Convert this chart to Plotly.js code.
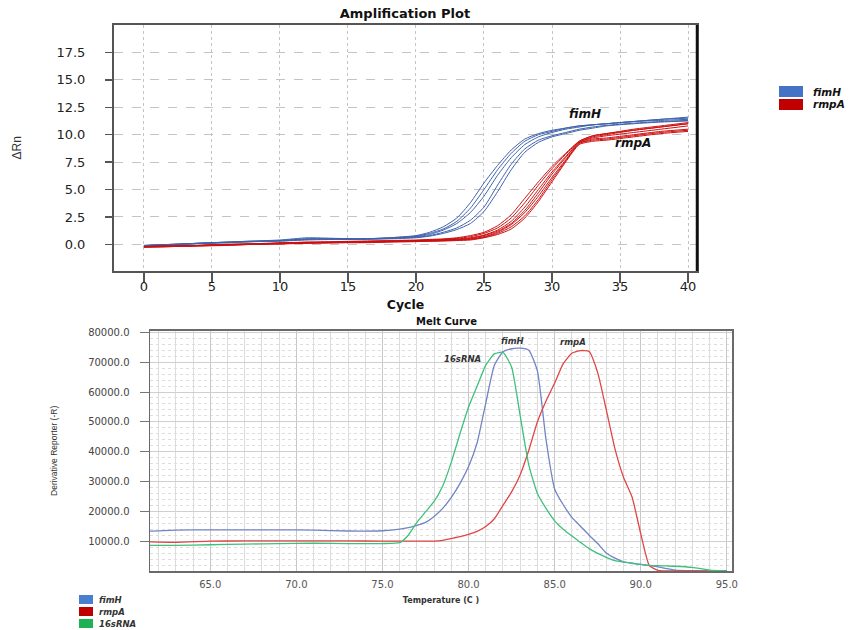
<!DOCTYPE html>
<html>
<head>
<meta charset="utf-8">
<script src="https://cdn.plot.ly/plotly-3.0.1.min.js"></script>
<style>html,body{margin:0;padding:0;background:#fff;}</style>
</head>
<body>
<div id="chart" style="width:862px;height:630px;"></div>
<script>
// ---------- Amplification plot data (ΔRn vs cycle) ----------
const cycles = [0,2,4,6,8,10,12,14,16,18,20,21,22,23,24,25,26,27,28,29,30,31,32,33,34,36,38,40];

const fimH_1 = [-0.10,0.00,0.10,0.20,0.30,0.35,0.50,0.50,0.50,0.60,0.80,1.10,1.60,2.40,3.80,5.60,7.20,8.60,9.60,10.10,10.40,10.60,10.80,10.90,11.00,11.20,11.40,11.50];
const fimH_2 = [-0.10,0.00,0.10,0.20,0.30,0.40,0.60,0.55,0.50,0.60,0.75,1.00,1.40,2.10,3.30,5.00,6.80,8.30,9.40,10.00,10.30,10.60,10.80,10.90,11.00,11.20,11.40,11.60];
const fimH_3 = [-0.15,-0.05,0.10,0.20,0.25,0.35,0.50,0.50,0.50,0.55,0.70,0.90,1.30,1.90,2.90,4.40,6.30,7.90,9.10,9.80,10.20,10.50,10.70,10.90,11.00,11.20,11.30,11.40];
const fimH_4 = [-0.10,0.00,0.10,0.15,0.25,0.30,0.45,0.50,0.50,0.55,0.65,0.80,1.10,1.50,2.20,3.40,5.40,7.30,8.70,9.50,9.90,10.20,10.50,10.70,10.85,11.05,11.20,11.30];
const fimH_5 = [-0.15,-0.05,0.05,0.15,0.25,0.30,0.40,0.45,0.45,0.50,0.60,0.75,1.00,1.35,1.90,3.00,4.80,6.80,8.40,9.30,9.80,10.10,10.40,10.60,10.80,11.00,11.15,11.25];

const rmpA_1 = [-0.20,-0.15,-0.10,0.00,0.05,0.15,0.20,0.25,0.30,0.35,0.40,0.45,0.50,0.60,0.80,1.10,1.70,2.70,4.20,5.70,7.10,8.30,9.40,9.90,10.10,10.40,10.70,11.00];
const rmpA_2 = [-0.20,-0.15,-0.10,0.00,0.05,0.10,0.20,0.20,0.25,0.30,0.35,0.40,0.45,0.55,0.70,1.00,1.50,2.40,3.80,5.40,6.90,8.20,9.40,9.90,10.10,10.50,10.80,11.10];
const rmpA_3 = [-0.25,-0.20,-0.10,-0.05,0.05,0.10,0.15,0.20,0.25,0.30,0.35,0.40,0.45,0.50,0.60,0.85,1.30,2.10,3.40,5.00,6.60,8.00,9.30,9.80,10.00,10.40,10.70,11.00];
const rmpA_4 = [-0.20,-0.15,-0.10,-0.05,0.00,0.10,0.15,0.20,0.20,0.25,0.30,0.35,0.40,0.45,0.55,0.80,1.20,1.90,3.10,4.70,6.40,7.90,9.30,9.70,9.90,10.20,10.50,10.80];
const rmpA_5 = [-0.25,-0.20,-0.15,-0.05,0.00,0.05,0.15,0.15,0.20,0.25,0.30,0.30,0.35,0.40,0.50,0.70,1.10,1.80,2.90,4.40,6.10,7.70,9.20,9.60,9.70,10.00,10.30,10.50];
const rmpA_6 = [-0.20,-0.15,-0.10,-0.05,0.00,0.05,0.10,0.15,0.20,0.25,0.30,0.30,0.35,0.40,0.45,0.65,1.00,1.60,2.60,4.10,5.90,7.60,9.20,9.50,9.60,9.90,10.20,10.40];
const rmpA_7 = [-0.25,-0.20,-0.15,-0.10,0.00,0.05,0.10,0.15,0.15,0.20,0.25,0.30,0.30,0.35,0.40,0.60,0.90,1.40,2.40,3.90,5.70,7.50,9.10,9.40,9.50,9.80,10.10,10.30];

const ampXTicks = [0,5,10,15,20,25,30,35,40];
const ampYTicks = [0,2.5,5,7.5,10,12.5,15,17.5];

// ---------- Melt curve data (derivative reporter vs temperature) ----------
const meltTemp = [61,63,65,67,69,71,73,75,76,76.5,77,77.5,78,78.5,79,79.5,80,80.5,81,81.5,82,82.5,83,83.5,84,84.5,85,85.5,86,86.5,87,87.5,88,88.5,89,89.5,90,90.5,91,91.5,92,93,94,95];
const meltFimH = [13200,13700,13800,13800,13800,13700,13400,13500,14000,14500,15300,16300,18300,21000,24700,29300,35000,43000,56300,69000,73500,74500,74700,74000,67000,44000,27500,22200,18000,15000,12000,9200,6000,4300,3100,2600,2200,1800,1400,800,300,100,50,0];
const melt16s  = [8600,8600,8800,9000,9200,9300,9200,9200,9500,12000,16300,19800,23300,28500,36500,46000,55000,62000,69000,72800,73300,68400,52000,35500,26000,21000,16800,14000,11700,9600,7500,5900,4600,3500,3000,2600,2200,1900,1800,1700,1600,1200,300,0];
const meltRmpA = [9800,9600,10000,10100,10100,10100,10100,10000,10000,10000,10000,10000,10000,10300,10900,11500,12300,13300,14900,17500,22000,26500,32300,40500,50000,57000,63000,69500,73000,73900,73600,66500,54000,41000,31400,24700,12500,1800,200,0,0,0,0,0];

const meltXTicks = [65,70,75,80,85,90,95];
const meltYTicks = [10000,20000,30000,40000,50000,60000,70000,80000];

// ---------- styles ----------
const W = 862, H = 630;
const px = x => x / W;
const py = y => 1 - y / H;
const BLUE_AMP = '#3f62aa', RED_AMP = '#cc1010';
const BLUE_M = '#7284c4', RED_M = '#e04646', GREEN_M = '#3fc07c';

const traces = [];
[fimH_1,fimH_2,fimH_3,fimH_4,fimH_5].forEach(v => traces.push({
  x: cycles, y: v, xaxis:'x', yaxis:'y', type:'scatter', mode:'lines',
  line:{color:BLUE_AMP, width:1.0, shape:'spline', smoothing:0.6}, name:'fimH', hoverinfo:'skip'
}));
[rmpA_1,rmpA_2,rmpA_3,rmpA_4,rmpA_5,rmpA_6,rmpA_7].forEach(v => traces.push({
  x: cycles, y: v, xaxis:'x', yaxis:'y', type:'scatter', mode:'lines',
  line:{color:RED_AMP, width:1.0, shape:'spline', smoothing:0.6}, name:'rmpA', hoverinfo:'skip'
}));
traces.push({x: meltTemp, y: meltFimH, xaxis:'x2', yaxis:'y2', type:'scatter', mode:'lines',
  line:{color:BLUE_M, width:1.3, shape:'spline', smoothing:0.5}, name:'fimH'});
traces.push({x: meltTemp, y: meltRmpA, xaxis:'x2', yaxis:'y2', type:'scatter', mode:'lines',
  line:{color:RED_M, width:1.3, shape:'spline', smoothing:0.5}, name:'rmpA'});
traces.push({x: meltTemp, y: melt16s, xaxis:'x2', yaxis:'y2', type:'scatter', mode:'lines',
  line:{color:GREEN_M, width:1.3, shape:'spline', smoothing:0.5}, name:'16sRNA'});

const layout = {
  width: W, height: H,
  margin:{l:0,r:0,t:0,b:0},
  paper_bgcolor:'#ffffff', plot_bgcolor:'#ffffff',
  showlegend:false,
  font:{family:'DejaVu Sans', color:'#222'},
  title:{text:'<b>Amplification Plot</b>', x:px(405), xanchor:'center', y:py(13), yanchor:'middle',
         font:{size:13, color:'#111'}},
  xaxis:{
    domain:[px(114), px(697)], anchor:'y', range:[-2.2, 40.66],
    tickmode:'array', tickvals:ampXTicks, ticks:'outside', ticklen:10, tickwidth:1.5, tickcolor:'#555',
    showgrid:true, gridcolor:'#c4c4c4', griddash:'dot', gridwidth:1,
    showline:true, mirror:true, linecolor:'#555', linewidth:2, zeroline:false,
    tickfont:{size:13, color:'#222'}, ticklabelstandoff:-7, automargin:false,
    title:{text:'<b>Cycle</b>', font:{size:12.5, color:'#111'}, standoff:7}
  },
  yaxis:{
    domain:[py(270.7), py(25)], anchor:'x', range:[-2.4, 20.0],
    tickmode:'array', tickvals:ampYTicks, tickformat:'.1f', ticks:'outside', ticklen:7, tickwidth:1.5, tickcolor:'#555',
    showgrid:true, gridcolor:'#c4c4c4', griddash:'dash', gridwidth:1,
    showline:true, mirror:true, linecolor:'#555', linewidth:2, zeroline:false,
    tickfont:{size:13, color:'#222'}, ticklabelstandoff:17, automargin:false,
    title:{text:'ΔRn', font:{family:'Liberation Sans', size:12, color:'#333'}, standoff:32}
  },
  xaxis2:{
    domain:[px(150), px(732)], anchor:'y2', range:[61.5, 95.3],
    tickmode:'array', tickvals:meltXTicks, tickformat:'.1f', ticks:'',
    showgrid:true, gridcolor:'#c8c8c8', gridwidth:1,
    minor:{tickmode:'linear', tick0:60, dtick:1, showgrid:true, gridcolor:'#dcdcdc', gridwidth:1, ticks:''},
    showline:true, mirror:true, linecolor:'#6a6a6a', linewidth:1.5, zeroline:false,
    tickfont:{size:10, color:'#555'}, ticklabelstandoff:3, automargin:false,
    title:{text:'<b>Temperature (C )</b>', font:{size:8, color:'#333'}, standoff:9}
  },
  yaxis2:{
    domain:[py(571), py(330.7)], anchor:'x2', range:[0, 80550],
    tickmode:'array', tickvals:meltYTicks, tickformat:'.1f', ticks:'outside', ticklen:9, tickwidth:1, tickcolor:'#777',
    showgrid:true, gridcolor:'#cfcfcf', gridwidth:1,
    minor:{tickmode:'linear', tick0:0, dtick:2000, showgrid:true, gridcolor:'#dedede', griddash:'dot', gridwidth:1, ticks:''},
    showline:true, mirror:true, linecolor:'#6a6a6a', linewidth:1.5, zeroline:false,
    tickfont:{size:10, color:'#444'}, ticklabelstandoff:8, automargin:false,
    title:{text:'Derivative Reporter (-R)', font:{family:'Liberation Sans', size:8.5, color:'#333'}, standoff:29}
  },
  shapes:[
    {type:'line', xref:'paper', yref:'paper', x0:px(697), x1:px(697), y0:py(271), y1:py(25), line:{color:'#111', width:2.5}},
    {type:'rect', xref:'paper', yref:'paper', x0:px(779), x1:px(803), y0:py(97), y1:py(86), fillcolor:'#4472c4', line:{width:0}},
    {type:'rect', xref:'paper', yref:'paper', x0:px(779), x1:px(803), y0:py(110), y1:py(99), fillcolor:'#c00000', line:{width:0}},
    {type:'rect', xref:'paper', yref:'paper', x0:px(79), x1:px(93), y0:py(604), y1:py(595), fillcolor:'#4a7fd0', line:{width:0}},
    {type:'rect', xref:'paper', yref:'paper', x0:px(79), x1:px(93), y0:py(616), y1:py(607), fillcolor:'#c00000', line:{width:0}},
    {type:'rect', xref:'paper', yref:'paper', x0:px(79), x1:px(93), y0:py(628), y1:py(619), fillcolor:'#1fb254', line:{width:0}}
  ],
  annotations:[
    {text:'<b>Melt Curve</b>', xref:'paper', yref:'paper', x:px(446), y:py(321.5), xanchor:'center', yanchor:'middle', showarrow:false, font:{size:10, color:'#111'}},
    {text:'<b><i>fimH</i></b>', xref:'paper', yref:'paper', x:px(585), y:py(114), xanchor:'center', yanchor:'middle', showarrow:false, font:{size:12, color:'#111'}},
    {text:'<b><i>rmpA</i></b>', xref:'paper', yref:'paper', x:px(633), y:py(143), xanchor:'center', yanchor:'middle', showarrow:false, font:{size:12, color:'#111'}},
    {text:'<b><i>fimH</i></b>', xref:'paper', yref:'paper', x:px(811), y:py(91.5), xanchor:'left', yanchor:'middle', showarrow:false, font:{size:10.5, color:'#111'}},
    {text:'<b><i>rmpA</i></b>', xref:'paper', yref:'paper', x:px(811), y:py(104.5), xanchor:'left', yanchor:'middle', showarrow:false, font:{size:10.5, color:'#111'}},
    {text:'<b><i>fimH</i></b>', xref:'paper', yref:'paper', x:px(512), y:py(341), xanchor:'center', yanchor:'middle', showarrow:false, font:{size:8.5, color:'#333'}},
    {text:'<b><i>rmpA</i></b>', xref:'paper', yref:'paper', x:px(573), y:py(342), xanchor:'center', yanchor:'middle', showarrow:false, font:{size:8.5, color:'#333'}},
    {text:'<b><i>16sRNA</i></b>', xref:'paper', yref:'paper', x:px(462), y:py(359), xanchor:'center', yanchor:'middle', showarrow:false, font:{size:8.5, color:'#333'}},
    {text:'<b><i>fimH</i></b>', xref:'paper', yref:'paper', x:px(97), y:py(599.5), xanchor:'left', yanchor:'middle', showarrow:false, font:{size:8.5, color:'#333'}},
    {text:'<b><i>rmpA</i></b>', xref:'paper', yref:'paper', x:px(97), y:py(611.5), xanchor:'left', yanchor:'middle', showarrow:false, font:{size:8.5, color:'#333'}},
    {text:'<b><i>16sRNA</i></b>', xref:'paper', yref:'paper', x:px(97), y:py(623.5), xanchor:'left', yanchor:'middle', showarrow:false, font:{size:8.5, color:'#333'}}
  ]
};

Plotly.newPlot('chart', traces, layout, {displayModeBar:false, staticPlot:true});
</script>
</body>
</html>
